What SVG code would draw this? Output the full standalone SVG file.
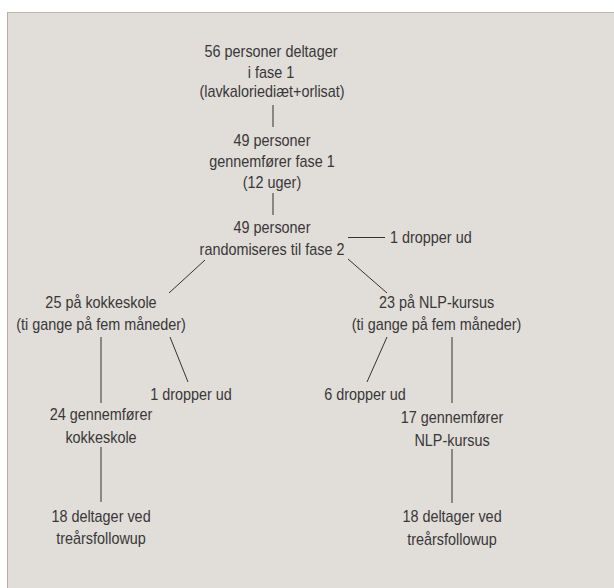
<svg xmlns="http://www.w3.org/2000/svg" width="614" height="588" viewBox="0 0 614 588">
<style>
text{font-family:"Liberation Sans",Arial,sans-serif;font-size:16px;fill:#383838;text-anchor:middle}
.s{text-anchor:start}
#connectors line{stroke:#333;stroke-width:1}
</style>
<rect x="0" y="0" width="614" height="588" fill="#ffffff"/>
<rect x="7.5" y="12.5" width="610" height="580" fill="#e1ddd8"/>
<line x1="7" y1="12.5" x2="614" y2="12.5" stroke="#bdb6b1" stroke-width="1"/>
<line x1="7.5" y1="12" x2="7.5" y2="588" stroke="#c4a8a3" stroke-width="1"/>
<g id="connectors">
<line x1="273" y1="105" x2="273" y2="127"/>
<line x1="273" y1="193" x2="273" y2="215"/>
<line x1="348" y1="237.5" x2="385" y2="237.5"/>
<line x1="205" y1="260" x2="169" y2="293"/>
<line x1="348" y1="259" x2="387" y2="293"/>
<line x1="101" y1="337" x2="101" y2="403"/>
<line x1="170" y1="337" x2="188" y2="382"/>
<line x1="387" y1="337" x2="367" y2="382"/>
<line x1="452" y1="337" x2="452" y2="403"/>
<line x1="101" y1="447" x2="101" y2="502"/>
<line x1="452" y1="449" x2="452" y2="503"/>
</g>
<g id="n1"><text transform="translate(271 57) scale(0.9 1)">56 personer deltager</text><text transform="translate(271 78) scale(0.9 1)">i fase 1</text><text transform="translate(272 97) scale(0.9 1)">(lavkaloriediæt+orlisat)</text></g>
<g id="n2"><text transform="translate(272 146) scale(0.9 1)">49 personer</text><text transform="translate(272 167) scale(0.9 1)">gennemfører fase 1</text><text transform="translate(272 188) scale(0.9 1)">(12 uger)</text></g>
<g id="n3"><text transform="translate(272 233) scale(0.9 1)">49 personer</text><text transform="translate(272 255) scale(0.9 1)">randomiseres til fase 2</text></g>
<g id="n4"><text class="s" transform="translate(390 243) scale(0.9 1)">1 dropper ud</text></g>
<g id="n5"><text transform="translate(101 308) scale(0.9 1)">25 på kokkeskole</text><text transform="translate(101 330) scale(0.9 1)">(ti gange på fem måneder)</text></g>
<g id="n6"><text transform="translate(436.5 308) scale(0.9 1)">23 på NLP-kursus</text><text transform="translate(436.5 330) scale(0.9 1)">(ti gange på fem måneder)</text></g>
<g id="n7"><text transform="translate(191 400) scale(0.9 1)">1 dropper ud</text></g>
<g id="n8"><text transform="translate(365 400) scale(0.9 1)">6 dropper ud</text></g>
<g id="n9"><text transform="translate(101 420) scale(0.9 1)">24 gennemfører</text><text transform="translate(101 443) scale(0.9 1)">kokkeskole</text></g>
<g id="n10"><text transform="translate(452 423) scale(0.9 1)">17 gennemfører</text><text transform="translate(452 446) scale(0.9 1)">NLP-kursus</text></g>
<g id="n11"><text transform="translate(101 522) scale(0.9 1)">18 deltager ved</text><text transform="translate(101 544) scale(0.9 1)">treårsfollowup</text></g>
<g id="n12"><text transform="translate(452 522) scale(0.9 1)">18 deltager ved</text><text transform="translate(452 545) scale(0.9 1)">treårsfollowup</text></g>
</svg>
